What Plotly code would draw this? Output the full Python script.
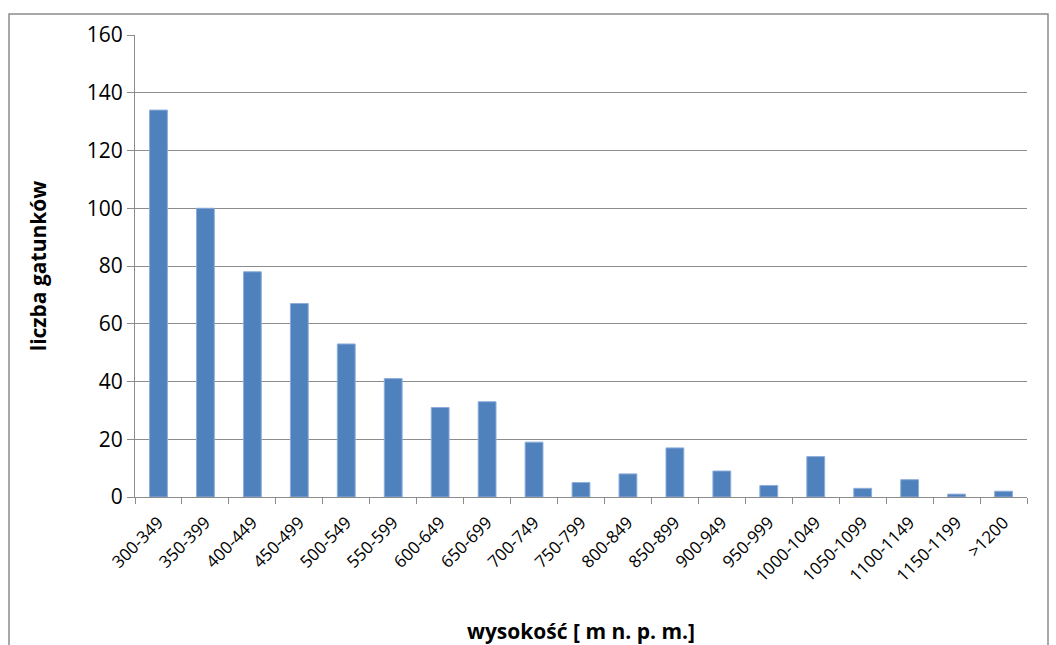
import plotly.graph_objects as go

# ── Data ─────────────────────────────────────────────────────────────────────
ALTITUDE_BINS = [
    "300-349", "350-399", "400-449", "450-499", "500-549", "550-599",
    "600-649", "650-699", "700-749", "750-799", "800-849", "850-899",
    "900-949", "950-999", "1000-1049", "1050-1099", "1100-1149",
    "1150-1199", ">1200",
]
SPECIES_COUNT = [134, 100, 78, 67, 53, 41, 31, 33, 19, 5, 8, 17, 9, 4, 14, 3, 6, 1, 2]

Y_TICKS = [0, 20, 40, 60, 80, 100, 120, 140, 160]

# ── Style ────────────────────────────────────────────────────────────────────
BAR_COLOR = "#4F81BD"
BAR_EDGE = "#8EAEDB"
AXIS_COLOR = "#8C8C8C"
FONT = "'Open Sans', 'Noto Sans', sans-serif"

fig = go.Figure(go.Bar(
    x=ALTITUDE_BINS,
    y=SPECIES_COUNT,
    marker=dict(color=BAR_COLOR, line=dict(color=BAR_EDGE, width=1)),
))

fig.update_layout(
    width=1056,
    height=645,
    paper_bgcolor="white",
    plot_bgcolor="white",
    font=dict(family=FONT, color="black"),
    margin=dict(l=135, r=29, t=35, b=148),
    bargap=0.62,
    showlegend=False,
    xaxis=dict(
        automargin=False,
        tickangle=-45,
        tickfont=dict(size=17),
        ticklabelstandoff=8,
        showline=True, linecolor=AXIS_COLOR, linewidth=1,
        ticks="outside", ticklen=6, tickcolor=AXIS_COLOR,
        tickson="boundaries",
        title=dict(text="<b>wysokość [ m n. p. m.]</b>", font=dict(size=21), standoff=40),
    ),
    yaxis=dict(
        automargin=False,
        range=[0, 160],
        tickvals=Y_TICKS,
        tickfont=dict(size=21),
        showgrid=True, gridcolor=AXIS_COLOR, gridwidth=1,
        showline=True, linecolor=AXIS_COLOR, linewidth=1,
        ticks="outside", ticklen=7, tickcolor=AXIS_COLOR,
        zeroline=False,
        title=dict(text="<b>liczba gatunków</b>", font=dict(size=21), standoff=34),
    ),
)

# outer chart frame (bottom edge runs off the image)
fig.add_shape(
    type="rect", xref="paper", yref="paper",
    x0=-126 / 892, x1=(1048 - 135) / 892,
    y0=-0.4, y1=(497 - 14) / 462,
    line=dict(color=AXIS_COLOR, width=1.5),
    layer="below",
)

fig.write_html(
    "out.html",
    config={"displayModeBar": False},
    post_script="document.body.style.margin='0';",
)
